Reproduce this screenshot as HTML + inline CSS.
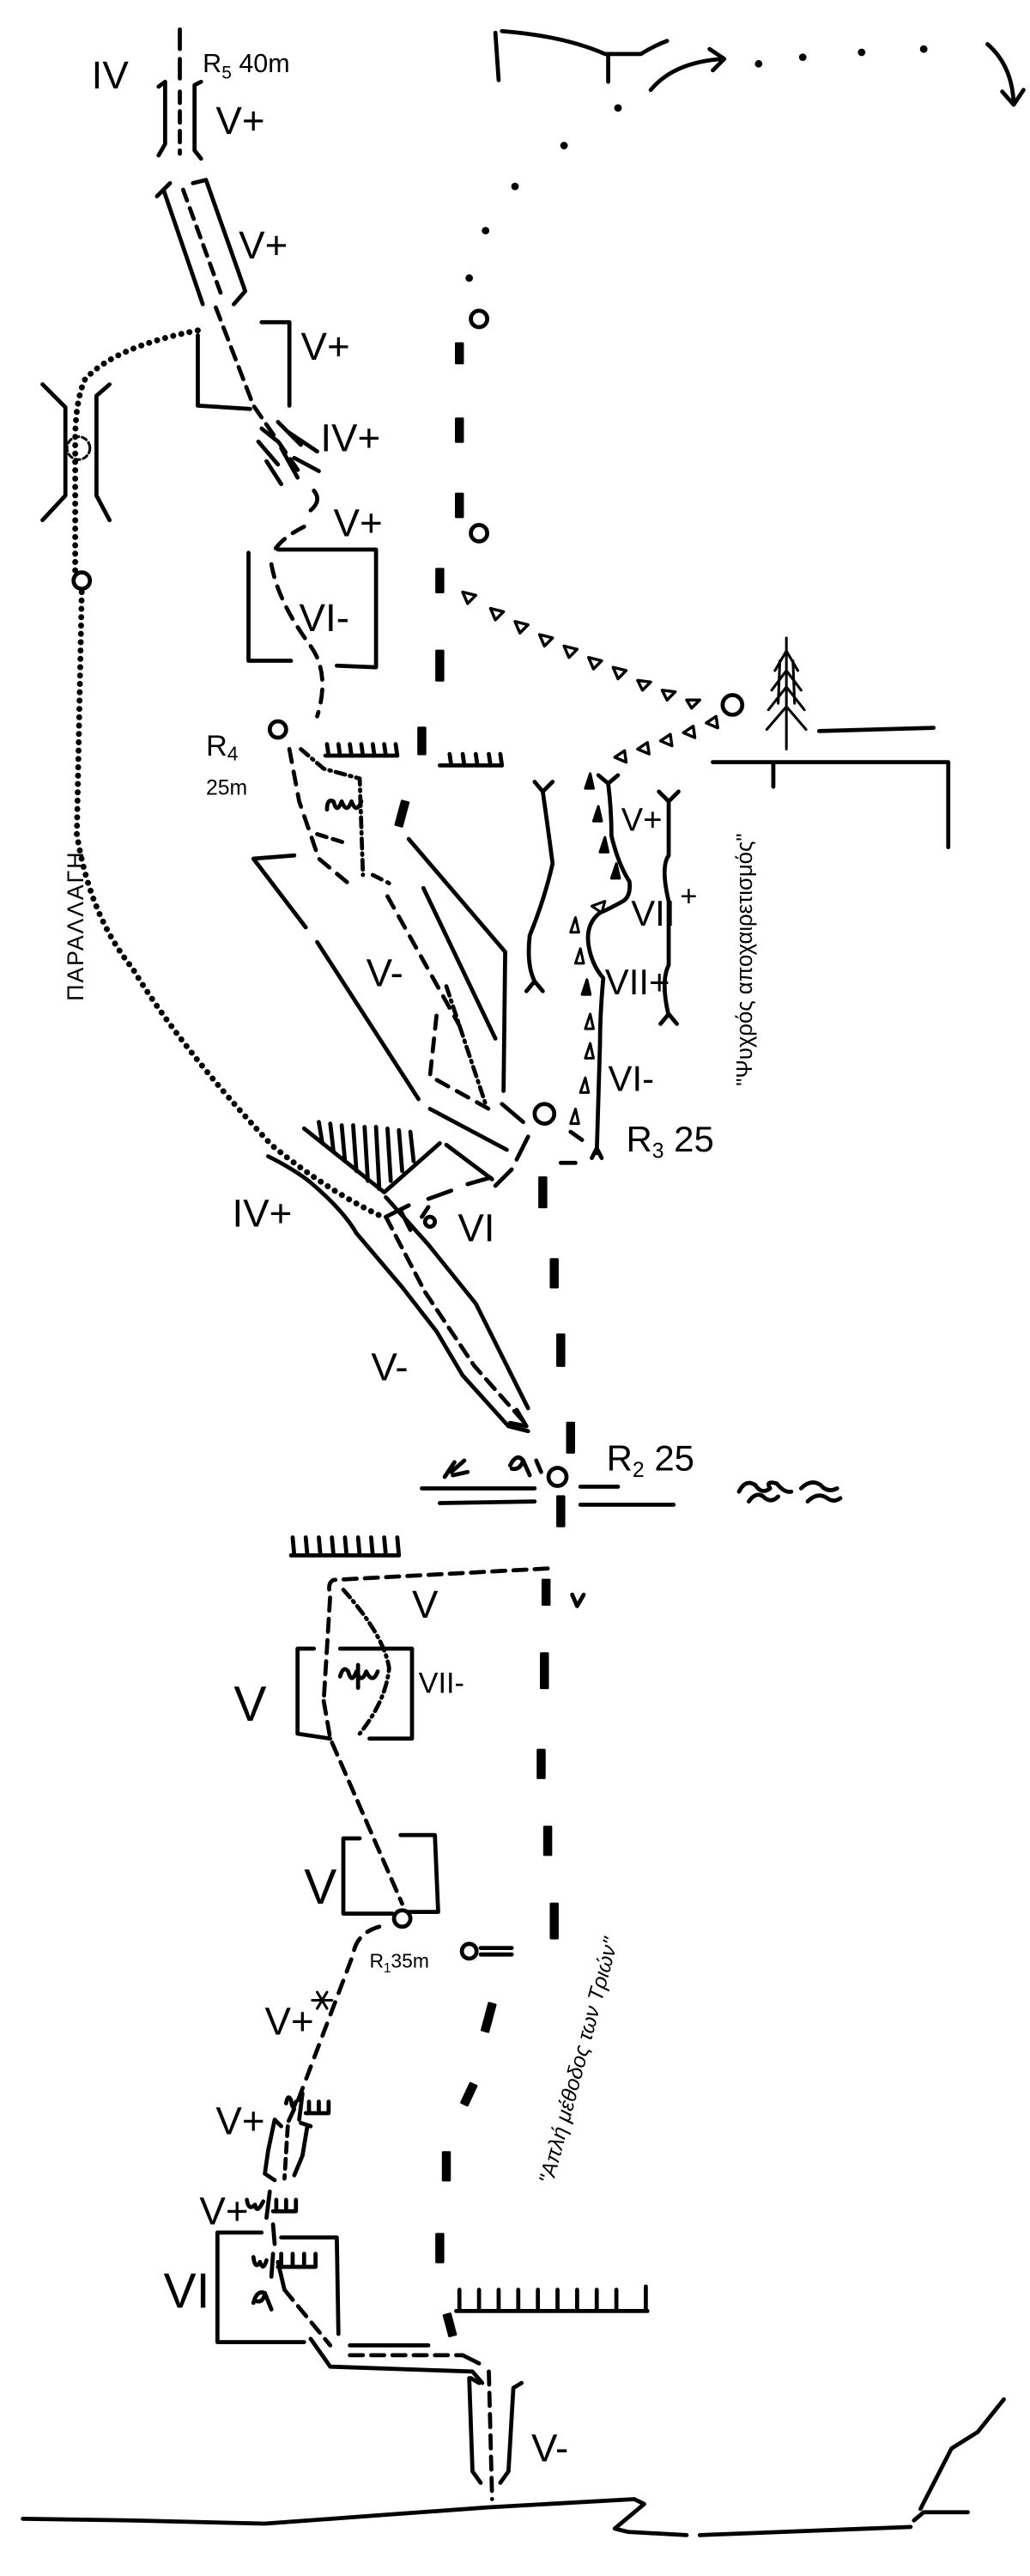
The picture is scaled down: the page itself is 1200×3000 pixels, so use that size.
<!DOCTYPE html>
<html><head><meta charset="utf-8"><style>
html,body{margin:0;padding:0;background:#fff;}
svg{display:block;}
text{font-family:"Liberation Sans Narrow","Liberation Sans","DejaVu Sans",sans-serif;fill:#000;}
text.g{font-family:"Liberation Sans","DejaVu Sans",sans-serif;}
</style></head><body>
<svg width="1200" height="3000" viewBox="0 0 630 1575" preserveAspectRatio="none" xmlns="http://www.w3.org/2000/svg">
<rect width="630" height="1575" fill="#fff"/>
<g fill="none" stroke="#000" stroke-width="2.5" stroke-linecap="round" stroke-linejoin="round">
<path d="M110,18 L110,30 M110,36 L110,48"/>
<path d="M97,53 L101,50 L101,88 L97,95 M123,50 L119,52 L119,92 L123,97"/>
<path d="M110,56 L110,94" stroke-dasharray="7 5"/>
<path d="M96,120 L104,112 M100,116 L124,186 M118,112 L126,110 L150,178 L143,186"/>
<path d="M112,116 L136,182" stroke-dasharray="7 5"/>
<path d="M160,197 L177,197 L177,248 M121,205 L121,248 L153,250"/>
<path d="M132,188 L155,248 L184,290" stroke-dasharray="8 5"/>
<path d="M160,262 L170,270 M158,270 L170,284 M163,282 L172,296 M170,258 L184,272 M176,264 L194,276 M180,280 L195,288 M172,274 L182,292"/>
<path d="M192,300 Q197,306 190,312"/>
<path d="M186,322 Q170,330 166,340 M166,345 Q170,368 190,395 Q202,412 194,438" stroke-dasharray="8 6"/>
<path d="M152,338 L152,404 L178,404 M170,336 L230,336 L230,408 L206,407"/>
<circle cx="170" cy="446" r="5"/>
<path d="M199,462 L243,462 M269,468 L307,468"/>
<path d="M201,462 L200,455 M208,462 L207,455 M215,462 L214,455 M222,462 L221,455 M229,462 L228,455 M236,462 L235,455 M243,462 L242,455 M276,468 L275,461 M284,468 L283,461 M292,468 L291,461 M300,468 L299,461 M307,468 L306,461"/>
<path d="M177,458 L183,490 L195,525 L213,540" stroke-dasharray="8 6"/>
<path d="M184,458 L198,470 L220,476 L222,535" stroke-dasharray="6 3 1 3"/>
<path d="M200,495 Q200,488 204,490 Q206,498 209,490 Q212,498 215,490 Q218,498 221,490"/>
<g fill="#000" stroke-width="1.5">
<rect x="279" y="210" width="4" height="12"/>
<rect x="279" y="256" width="4" height="14"/>
<rect x="279" y="302" width="4" height="14"/>
<rect x="267" y="348" width="4" height="14"/>
<rect x="267" y="398" width="4" height="18"/>
<rect x="256" y="445" width="4" height="16"/>
<rect x="244" y="490" width="4" height="15" transform="rotate(15 246 497)"/>
</g>
<circle cx="293" cy="195" r="5"/>
<circle cx="293" cy="326" r="5"/>
<g fill="#000" stroke="none">
<circle cx="378" cy="66" r="2.3"/><circle cx="345" cy="89" r="2.3"/><circle cx="315" cy="114" r="2.3"/><circle cx="297" cy="141" r="2.3"/><circle cx="287" cy="170" r="2.3"/>
<circle cx="464" cy="39" r="2.3"/><circle cx="491" cy="35" r="2.3"/><circle cx="527" cy="32" r="2.3"/><circle cx="565" cy="30" r="2.3"/>
</g>
<path d="M303,20 L305,49 M307,19 Q345,22 370,33 L392,33 Q400,28 408,25 M372,33 L372,50"/>
<path d="M398,55 Q412,38 442,36 M434,30 L443,36 L436,43"/>
<path d="M604,27 Q619,40 620,63 M613,56 L620,64 L626,55"/>
<g stroke-width="1.8">
<path d="M283,362 l8,2 l-5,5 z M300,372 l8,2 l-5,5 z M315,380 l8,2 l-5,5 z M330,388 l8,2 l-5,5 z M345,395 l8,2 l-5,5 z M360,402 l8,2 l-5,5 z M375,408 l8,2 l-5,5 z M390,416 l8,1 l-5,5 z M405,422 l8,1 l-5,5 z M420,428 l8,0 l-5,5 z"/>
<path d="M432,442 l6,-4 l1,7 z M418,448 l6,-4 l1,7 z M404,453 l6,-4 l1,7 z M390,458 l6,-4 l1,7 z M376,463 l6,-4 l1,7 z"/>
</g>
<circle cx="448" cy="431" r="6"/>
<path d="M481,390 L481,458 M481,398 L474,410 M481,398 L488,410 M481,410 L472,422 M481,410 L490,422 M481,420 L470,434 M481,420 L492,434 M481,432 L469,446 M481,432 L493,446 M477,404 L476,430 M485,404 L486,430" stroke-width="1.6"/>
<path d="M501,447 L571,445 M436,466 L580,466 L580,518 M473,466 L473,481"/>
<path d="M26,235 L40,249 L40,303 L26,318 M67,235 L59,242 L59,303 L67,318"/>
<circle cx="48" cy="274" r="7" stroke-dasharray="3 2" stroke-width="1.6"/>
<path d="M121,202 Q70,212 52,232 Q46,245 46,270 L46,350 M50,362 L47,510 Q55,560 81,592 Q110,640 166,700 Q200,728 234,744" stroke-dasharray="0.1 5" stroke-width="3.6"/>
<circle cx="50" cy="355" r="5"/>
<path d="M155,525 L180,523 M155,525 L187,567 M194,576 L256,672"/>
<path d="M250,513 L309,582 L308,667 M259,543 L303,635"/>
<path d="M237,548 L281,627 M267,621 L263,658 L299,678" stroke-dasharray="8 6"/>
<path d="M273,603 L297,675" stroke-dasharray="6 3 1 3"/>
<path d="M194,510 L210,515 M228,535 L238,540" stroke-dasharray="6 4"/>
<path d="M263,678 L310,703 M273,700 L301,721"/>
<path d="M186,690 L235,729 L269,699"/>
<path d="M195,686 L197,698 M202,687 L204,704 M209,688 L211,710 M216,688 L218,716 M223,689 L225,722 M230,689 L232,727 M237,690 L239,722 M244,691 L246,716 M251,692 L253,710"/>
<circle cx="333" cy="681" r="6"/>
<path d="M307,675 L320,686 M323,695 L316,709 M313,715 L303,725 M343,711 L352,711 M349,692 L356,697"/>
<path d="M236,744 L250,737 M262,733 L276,728 M286,724 L300,720"/>
<path d="M327,478 L332,484 L338,478 M332,484 Q335,505 338,528 Q333,550 324,572 Q322,590 327,600 M322,606 L327,600 L332,606"/>
<path d="M366,474 L372,479 L378,474 M372,479 Q374,495 374,511 Q378,528 385,539 Q386,548 381,551 Q372,556 367,558 Q358,565 360,578 Q362,590 369,598 Q367,620 367,638 L365,705 M362,708 L365,702 L368,708"/>
<path d="M403,484 L409,490 L415,484 M409,490 L409,523 Q404,530 409,551 L409,590 Q404,600 409,621 M404,626 L409,620 L414,626"/>
<g stroke-width="1.6">
<path d="M358,482 l3,-9 l2,9 z M363,502 l3,-9 l2,9 z M367,521 l3,-9 l2,9 z M374,537 l3,-9 l2,9 z" fill="#000"/>
<path d="M362,554 l8,-3 l-2,7 z M349,570 l3,-9 l2,9 z M352,589 l3,-9 l2,9 z M356,608 l3,-9 l2,9 z M358,629 l3,-9 l2,9 z M358,647 l3,-9 l2,9 z M355,668 l3,-9 l2,9 z M349,687 l3,-9 l2,9 z"/>
<path d="M357,608 l2,-9 l2,9 z" fill="#000"/>
</g>
<path d="M164,707 Q180,715 190,723 Q210,740 218,754 L246,787 L267,814 L283,841 L311,872 L323,875"/>
<path d="M236,732 L262,761 L291,797 L323,861"/>
<path d="M236,744 L260,790 L290,835 L321,870" stroke-dasharray="8 5"/>
<path d="M316,862 L322,872 L312,870"/>
<path d="M245,740 L251,752 M262,738 L258,744"/>
<circle cx="263" cy="747" r="3"/>
<g fill="#000" stroke-width="1.5">
<rect x="330" y="720" width="4" height="18"/>
<rect x="337" y="770" width="4" height="17"/>
<rect x="341" y="816" width="4" height="19"/>
<rect x="347" y="870" width="4" height="18"/>
<rect x="341" y="915" width="4" height="18"/>
</g>
<circle cx="341" cy="903" r="5.5"/>
<path d="M258,910 L327,910 M269,919 L327,918 M355,909 L378,909 M355,920 L412,920"/>
<path d="M272,903 L278,894 M276,900 L284,893 M277,902 L286,900 M312,896 Q316,888 320,893 Q318,899 313,898 M320,893 L324,902 M328,893 L331,900"/>
<path d="M452,912 Q456,904 462,908 Q466,914 471,910 Q468,905 475,907 Q480,913 484,912 M458,918 Q463,911 468,916 Q472,919 476,915 M490,910 Q496,904 502,908 Q506,913 512,910 M494,918 Q500,912 506,916 Q510,919 514,916"/>
<path d="M178,951 L244,951 M180,951 L179,940 M188,951 L187,940 M196,951 L195,940 M204,951 L203,940 M212,951 L211,940 M220,951 L219,940 M228,951 L227,940 M236,951 L235,940 M244,951 L243,940"/>
<path d="M335,959 L204,966 Q200,968 202,975 L198,1040" stroke-dasharray="8 5"/>
<path d="M210,972 Q235,1000 238,1020 Q236,1040 220,1060" stroke-dasharray="6 3 1 3"/>
<path d="M350,975 L353,982 L357,975"/>
<g fill="#000" stroke-width="1.5">
<rect x="332" y="966" width="4" height="15"/>
<rect x="331" y="1011" width="4" height="21"/>
<rect x="329" y="1070" width="4" height="17"/>
<rect x="333" y="1117" width="4" height="17"/>
<rect x="337" y="1164" width="4" height="21"/>
<rect x="297" y="1225" width="4" height="17" transform="rotate(15 299 1233)"/>
<rect x="285" y="1274" width="4" height="13" transform="rotate(25 287 1280)"/>
<rect x="271" y="1316" width="4" height="17"/>
<rect x="267" y="1366" width="4" height="17"/>
<rect x="273" y="1415" width="4" height="13" transform="rotate(-15 275 1421)"/>
</g>
<path d="M192,1008 L182,1008 L182,1060 L202,1063 M208,1008 L252,1008 L252,1063 L226,1063"/>
<path d="M198,1040 L202,1063 L246,1164" stroke-dasharray="8 5"/>
<path d="M208,1025 Q210,1018 213,1022 Q215,1030 218,1022 Q221,1030 224,1022 Q228,1030 231,1022 M219,1018 L219,1032"/>
<path d="M220,1124 L210,1124 L210,1170 L240,1170 M245,1122 L266,1122 L268,1169 L250,1169"/>
<circle cx="246" cy="1173" r="5"/>
<circle cx="287" cy="1193" r="4.5"/>
<path d="M294,1191 L313,1191 M294,1195 L313,1195"/>
<path d="M232,1178 Q218,1182 216,1195 L182,1285 L176,1298" stroke-dasharray="8 6"/>
<path d="M194,1218 L200,1228 M200,1218 L194,1228 M191,1223 L203,1223" stroke-width="1.6"/>
<path d="M168,1296 L164,1315 L162,1329 L168,1333 M168,1296 L172,1300 M188,1300 L185,1318 L180,1330 M184,1298 L190,1300"/>
<path d="M176,1300 L174,1332" stroke-dasharray="6 4"/>
<path d="M175,1286 Q176,1280 178,1284 Q179,1292 181,1285 M185,1280 L183,1296 M187,1292 L201,1292 M189,1285 L189,1292 M195,1285 L195,1292 M201,1285 L201,1292"/>
<path d="M151,1345 Q152,1352 156,1348 Q157,1354 161,1346 M165,1340 L163,1356 M167,1352 L181,1352 M169,1345 L169,1352 M175,1345 L175,1352 M181,1345 L181,1352"/>
<path d="M160,1365 L133,1365 L133,1432 L186,1432 M172,1368 L206,1368 L207,1427"/>
<path d="M167,1360 L168,1372 M170,1383 L174,1400"/>
<path d="M155,1380 Q156,1388 159,1383 Q161,1389 163,1382 M167,1378 L166,1392 M170,1386 L193,1386 M172,1378 L172,1386 M179,1378 L179,1386 M186,1378 L186,1386 M193,1378 L193,1386"/>
<path d="M155,1408 Q157,1400 162,1402 Q161,1408 157,1407 M162,1402 L166,1412"/>
<path d="M174,1400 L202,1434 M214,1440 L283,1440 M299,1450 L301,1528" stroke-dasharray="8 5"/>
<path d="M214,1434 L262,1434"/>
<path d="M190,1430 L202,1447 L289,1450 L295,1457"/>
<path d="M283,1440 L293,1445"/>
<path d="M287,1454 L289,1511 L294,1518 M319,1457 L314,1460 L311,1511 L306,1518 M288,1454 L293,1457"/>
<path d="M279,1413 L396,1413 M281,1413 L281,1400 M293,1413 L293,1400 M305,1413 L305,1400 M317,1413 L317,1400 M329,1413 L329,1400 M341,1413 L341,1400 M353,1413 L353,1400 M365,1413 L365,1400 M377,1413 L377,1400 M395,1413 L395,1398"/>
<path d="M14,1540 L80,1541 L162,1543 L230,1538 L299,1533 L388,1528 L394,1531 L376,1546 L384,1548 L420,1550"/>
<path d="M428,1550 L557,1545 M559,1541 L565,1536 L592,1536 M563,1534 L582,1497 L598,1487 L614,1467"/>
</g>
<g font-size="24">
<text x="56" y="54">IV</text>
<text x="124" y="44" font-size="16">R<tspan font-size="11" dy="4">5</tspan><tspan dy="-4"> 40m</tspan></text>
<text x="132" y="82">V+</text>
<text x="146" y="158">V+</text>
<text x="184" y="220">V+</text>
<text x="196" y="276">IV+</text>
<text x="204" y="328">V+</text>
<text x="183" y="386">VI-</text>
<text x="126" y="462" font-size="18">R<tspan font-size="12" dy="3">4</tspan></text>
<text x="126" y="486" font-size="13">25m</text>
<text x="380" y="508" font-size="20">V+</text>
<text x="386" y="566" font-size="22">VII</text>
<text x="416" y="554" font-size="18">+</text>
<text x="370" y="608" font-size="22">VII+</text>
<text x="372" y="667" font-size="22">VI-</text>
<text x="383" y="704" font-size="22">R<tspan font-size="13" dy="4">3</tspan><tspan dy="-4"> 25</tspan></text>
<text x="224" y="603">V-</text>
<text x="142" y="750">IV+</text>
<text x="280" y="759">VI</text>
<text x="227" y="844">V-</text>
<text x="371" y="899" font-size="22">R<tspan font-size="13" dy="4">2</tspan><tspan dy="-4"> 25</tspan></text>
<text x="252" y="989">V</text>
<text x="143" y="1052" font-size="30">V</text>
<text x="256" y="1035" font-size="18">VII-</text>
<text x="186" y="1164" font-size="30">V</text>
<text x="226" y="1203" font-size="12">R<tspan font-size="8" dy="3">1</tspan><tspan dy="-3">35m</tspan></text>
<text x="162" y="1244">V+</text>
<text x="132" y="1305">V+</text>
<text x="122" y="1360">V+</text>
<text x="100" y="1411" font-size="30">VI</text>
<text x="325" y="1505">V-</text>
</g>
<text class="g" transform="translate(51,612) rotate(-90)" font-size="14" letter-spacing="1">ΠΑΡΑΛΛΑΓΗ</text>
<text class="g" transform="translate(460,664) rotate(-90)" font-size="13.5">"Ψυχρός αποχαιρετισμός"</text>
<text class="g" transform="translate(338,1336) rotate(-75)" font-size="13" font-style="italic">"Απλή μέθοδος των Τριών"</text>
</svg>
</body></html>
